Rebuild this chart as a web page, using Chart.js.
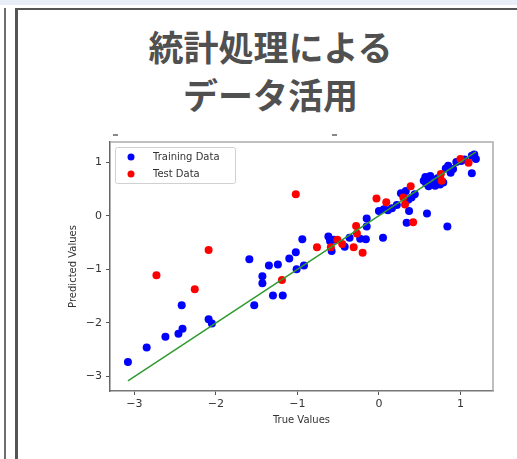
<!DOCTYPE html>
<html>
<head>
<meta charset="utf-8">
<title>統計処理によるデータ活用</title>
<script src="https://cdn.jsdelivr.net/npm/chart.js@4/dist/chart.umd.min.js"></script>
<style>
  html, body { margin: 0; padding: 0; background: #fff; }
  #page { position: relative; width: 517px; height: 459px; overflow: hidden; background: #fff; }
  .band { position: absolute; left: 0; top: 0; width: 517px; height: 5px; background: #e9edf8; }
  .rule-a { position: absolute; left: 4px; top: 8px; width: 2px; height: 451px; background: #6e6e6e; }
  .rule-b { position: absolute; left: 15px; top: 8px; width: 3px; height: 451px; background: #555; }
  .rule-top { position: absolute; left: 15px; top: 8px; width: 502px; height: 2px; background: #555; }
  .dash { position: absolute; top: 134px; width: 5px; height: 2px; background: #888; }
  .heading {
    position: absolute; left: 20px; width: 501px; top: 22px;
    text-align: center; font-family: "Noto Sans CJK JP", sans-serif; font-weight: 700;
    font-size: 35px; line-height: 48px; color: #505050;
  }
  canvas { position: absolute; left: 0; top: 0; }
</style>
</head>
<body>
<div id="page">
  <div class="band"></div>
  <div class="rule-a"></div>
  <div class="rule-b"></div>
  <div class="rule-top"></div>
  <div class="heading">統計処理による<br>データ活用</div>
  <div class="dash" style="left:113px"></div>
  <div class="dash" style="left:332px"></div>
  <canvas id="chart" width="517" height="459"></canvas>
</div>
<script>
// Training set: true values vs. model predictions
const trainTrue = [-3.08, -2.85, -2.62, -2.46, -2.41, -2.42, -2.09, -2.05, -1.59, -1.53,
  -1.43, -1.43, -1.35, -1.30, -1.24, -1.18, -1.10, -1.02, -1.01, -0.94,
  -0.92, -0.62, -0.60, -0.58, -0.55, -0.42, -0.36, -0.23, -0.16, -0.15,
  -0.15, 0.05, 0.00, 0.06, 0.11, 0.16, 0.22, 0.27, 0.30, 0.33,
  0.36, 0.40, 0.44, 0.37, 0.34, 0.59, 0.84, 0.55, 0.57, 0.58,
  0.59, 0.63, 0.69, 0.66, 0.75, 0.79, 0.72, 0.82, 0.85, 0.88,
  0.91, 0.95, 1.01, 1.05, 1.14, 1.14, 1.19, 1.17, 0.61, 0.70];
const trainPred = [-2.73, -2.46, -2.26, -2.20, -2.11, -1.67, -1.93, -2.01, -0.81, -1.67,
  -1.13, -1.26, -0.93, -1.49, -0.91, -1.49, -0.80, -0.68, -1.00, -0.44,
  -0.93, -0.39, -0.47, -0.66, -0.45, -0.58, -0.41, -0.43, -0.44, -0.05,
  -0.20, -0.41, 0.09, 0.12, 0.10, 0.14, 0.20, 0.42, 0.38, 0.46,
  0.30, 0.34, 0.40, 0.09, -0.13, 0.04, -0.20, 0.65, 0.72, 0.60,
  0.68, 0.74, 0.56, 0.60, 0.58, 0.62, 0.70, 0.88, 0.93, 0.80,
  0.87, 1.00, 1.02, 1.05, 0.79, 1.12, 1.06, 1.14, 0.55, 0.64];

// Test set: true values vs. model predictions
const testTrue = [-2.73, -2.26, -2.09, -1.19, -1.02, -0.76, -0.59, -0.51, -0.45, -0.31,
  -0.20, -0.28, -0.27, -0.03, 0.09, 0.30, 0.32, 0.39, 0.42, 0.76,
  0.77, 1.00, 1.10];
const testPred = [-1.11, -1.37, -0.64, -1.20, 0.40, -0.59, -0.59, -0.45, -0.53, -0.59,
  -0.69, -0.19, -0.33, 0.32, 0.25, 0.34, 0.21, 0.55, -0.12, 0.78,
  0.65, 1.06, 0.99];

const seriesNames = ['Training Data', 'Test Data'];
const axisTitles = ['True Values', 'Predicted Values'];
const xTicks = [-3, -2, -1, 0, 1];
const yTicks = [-3, -2, -1, 0, 1];

const toPoints = (xs, ys) => xs.map((x, i) => ({ x: x, y: ys[i] }));
const allTrue = trainTrue.concat(testTrue);
const lo = Math.min(...allTrue), hi = Math.max(...allTrue);
const identity = [{ x: lo, y: lo }, { x: hi, y: hi }];

const minusFmt = v => (v < 0 ? '\u2212' + Math.abs(v) : String(v));
const tickFont = { family: 'DejaVu Sans', size: 11 };

// top/right spines and the in-plot legend box
const plotFrame = {
  id: 'plotFrame',
  afterDraw(chart) {
    const { ctx, chartArea: a } = chart;
    ctx.save();
    ctx.strokeStyle = '#aaa';
    ctx.lineWidth = 1.5;
    ctx.beginPath();
    ctx.moveTo(a.left, a.top);
    ctx.lineTo(a.right, a.top);
    ctx.lineTo(a.right, a.bottom);
    ctx.stroke();

    const items = chart.data.datasets.filter(d => d.label);
    const bx = a.left + 5, by = a.top + 5, bw = 120, bh = 36;
    ctx.fillStyle = 'rgba(255,255,255,0.85)';
    ctx.strokeStyle = '#d0d0d0';
    ctx.lineWidth = 1;
    ctx.beginPath();
    ctx.roundRect(bx + 0.5, by + 0.5, bw, bh, 2);
    ctx.fill();
    ctx.stroke();
    ctx.font = '10px "DejaVu Sans"';
    ctx.textBaseline = 'middle';
    items.forEach((d, i) => {
      const cy = by + 10 + i * 17;
      ctx.fillStyle = d.backgroundColor;
      ctx.beginPath();
      ctx.arc(bx + 16, cy, 3.5, 0, Math.PI * 2);
      ctx.fill();
      ctx.fillStyle = '#333';
      ctx.fillText(d.label, bx + 38, cy);
    });
    ctx.restore();
  }
};

new Chart(document.getElementById('chart'), {
  type: 'scatter',
  data: {
    datasets: [
      {
        label: seriesNames[0], data: toPoints(trainTrue, trainPred),
        backgroundColor: '#0000ff', borderWidth: 0, pointRadius: 4, order: 2
      },
      {
        label: seriesNames[1], data: toPoints(testTrue, testPred),
        backgroundColor: '#ff0000', borderWidth: 0, pointRadius: 4, order: 1
      },
      {
        type: 'line', data: identity, borderColor: '#2f9a2f', borderWidth: 1.5,
        pointRadius: 0, fill: false, order: 0
      }
    ]
  },
  options: {
    responsive: false,
    animation: false,
    devicePixelRatio: 1,
    layout: { padding: { left: 60, top: 142, right: 24, bottom: 20 } },
    plugins: { legend: { display: false }, tooltip: { enabled: false } },
    scales: {
      x: {
        type: 'linear', min: -3.30, max: 1.40,
        afterFit: s => { s.height = 48; },
        afterBuildTicks: s => { s.ticks = xTicks.map(v => ({ value: v })); },
        border: { color: '#777', width: 1.5 },
        grid: { drawOnChartArea: false, drawTicks: true, tickLength: 4, color: '#555' },
        ticks: { padding: 3, color: '#333', font: tickFont, callback: minusFmt, maxRotation: 0 },
        title: {
          display: true, text: axisTitles[0], color: '#333',
          font: { family: 'DejaVu Sans', size: 10 }, padding: { top: 0, bottom: 13 }
        }
      },
      y: {
        type: 'linear', min: -3.27, max: 1.375,
        afterFit: s => { s.width = 50; },
        afterBuildTicks: s => { s.ticks = yTicks.map(v => ({ value: v })); },
        border: { color: '#666', width: 1.5 },
        grid: { drawOnChartArea: false, drawTicks: true, tickLength: 4, color: '#555' },
        ticks: { padding: 4, color: '#333', font: tickFont, callback: minusFmt },
        title: {
          display: true, text: axisTitles[1], color: '#333',
          font: { family: 'DejaVu Sans', size: 10 }, padding: { top: 7, bottom: 0 }
        }
      }
    }
  },
  plugins: [plotFrame]
});
</script>
</body>
</html>
